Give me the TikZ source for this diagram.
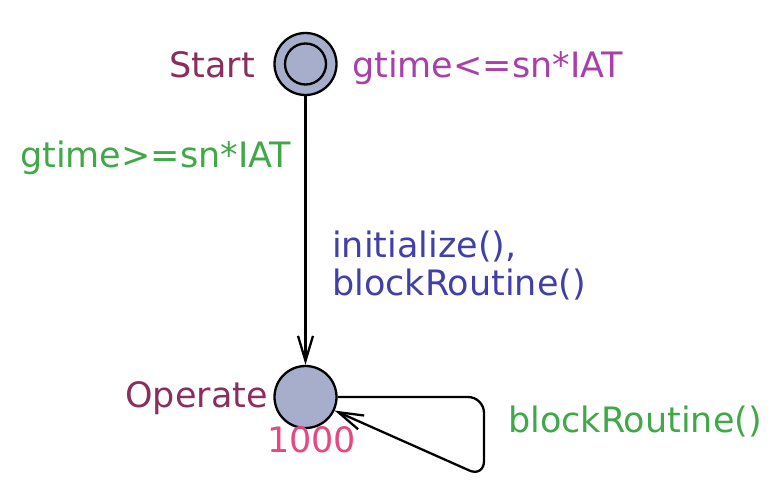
\documentclass[tikz,border=0pt]{standalone}
\usepackage{fontspec}
\setmainfont{DejaVu Sans}
\usetikzlibrary{arrows.meta}
\definecolor{locname}{RGB}{138,46,96}
\definecolor{invc}{RGB}{168,64,168}
\definecolor{guardc}{RGB}{64,168,72}
\definecolor{updc}{RGB}{64,64,168}
\definecolor{costc}{RGB}{232,72,128}
\definecolor{locfill}{RGB}{166,174,204}
\begin{document}
\begin{tikzpicture}[x=1pt,y=-1pt,
  loc/.style={circle,draw=black,line width=2.3pt,fill=locfill,minimum size=62pt,inner sep=0pt},
  locin/.style={circle,draw=black,line width=2.3pt,minimum size=41pt,inner sep=0pt},
  edge/.style={draw=black,line width=2.3pt,-{Straight Barb[length=25pt,width=15pt,line width=2.3pt]}},
  lbl/.style={inner sep=0pt,font=\fontsize{35}{38}\selectfont}]
\useasboundingbox (0,0) rectangle (778,498);
\node[loc] (start) at (305.5,64) {};
\node[locin] (startin) at (305.5,64) {};
\node[loc] (op) at (305.5,397) {};
\draw[edge] (start) -- (op);
\draw[edge,rounded corners=16pt] (op.east) -- (484,397) -- (484,477) -- (op.-25);
\node[lbl,text=locname,anchor=base east] (startlbl) at (255,77) {Start};
\node[lbl,text=invc,anchor=base west] (inv) at (352,77) {gtime<=sn*IAT};
\node[lbl,text=guardc,anchor=base west] (guard1) at (20,167) {gtime>=sn*IAT};
\node[lbl,text=updc,anchor=base west] (upd1) at (332,257) {initialize(),};
\node[lbl,text=updc,anchor=base west] (upd2) at (332,295) {blockRoutine()};
\node[lbl,text=locname,anchor=base east] (oplbl) at (268,407) {Operate};
\node[lbl,text=costc,anchor=base west] (cost) at (267,452) {1000};
\node[lbl,text=guardc,anchor=base west] (guard2) at (508,432) {blockRoutine()};
\end{tikzpicture}
\end{document}
